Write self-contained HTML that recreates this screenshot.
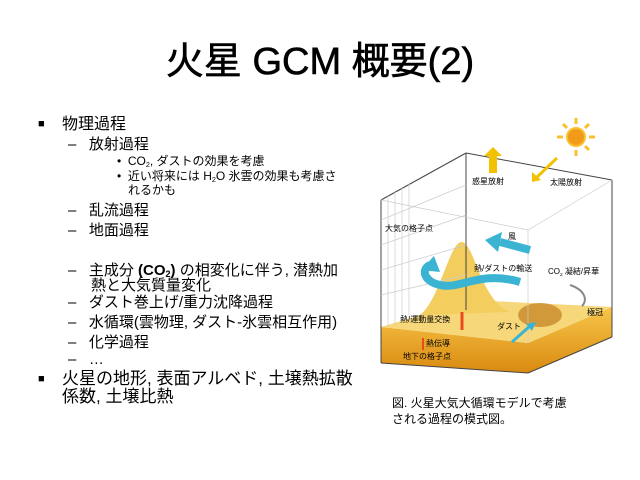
<!DOCTYPE html>
<html><head><meta charset="utf-8"><style>
body{margin:0;width:640px;height:480px;background:#fff;position:relative;overflow:hidden;font-family:"Liberation Sans","Noto Sans CJK JP",sans-serif;color:#000}
.t{position:absolute;white-space:nowrap;line-height:1}
sub{font-size:60%;vertical-align:-2px}
</style></head><body>
<div class="t" style="left:0;width:640px;text-align:center;top:43px;font-size:38px;-webkit-text-stroke:0.6px #000">火星 GCM 概要(2)</div>

<div class="t" style="left:38px;top:119px;font-size:11px">■</div>
<div class="t" style="left:62px;top:117px;font-size:16px">物理過程</div>
<div class="t" style="left:68px;top:137px;font-size:15px">–&nbsp;&nbsp; 放射過程</div>
<div class="t" style="left:117px;top:155px;font-size:12px">•&nbsp; CO<sub>2</sub>, ダストの効果を考慮</div>
<div class="t" style="left:117px;top:170px;font-size:12px">•&nbsp; 近い将来には H<sub>2</sub>O 氷雲の効果も考慮さ</div>
<div class="t" style="left:128px;top:184px;font-size:12px">れるかも</div>
<div class="t" style="left:68px;top:203px;font-size:15px">–&nbsp;&nbsp; 乱流過程</div>
<div class="t" style="left:68px;top:223px;font-size:15px">–&nbsp;&nbsp; 地面過程</div>
<div class="t" style="left:68px;top:263px;font-size:15px">–&nbsp;&nbsp; 主成分 <b>(CO<sub>2</sub>)</b> の相変化に伴う, 潜熱加</div>
<div class="t" style="left:91px;top:278px;font-size:15px">熱と大気質量変化</div>
<div class="t" style="left:68px;top:295px;font-size:15px">–&nbsp;&nbsp; ダスト巻上げ/重力沈降過程</div>
<div class="t" style="left:68px;top:315px;font-size:15px">–&nbsp;&nbsp; 水循環(雲物理, ダスト-氷雲相互作用)</div>
<div class="t" style="left:68px;top:335px;font-size:15px">–&nbsp;&nbsp; 化学過程</div>
<div class="t" style="left:68px;top:352px;font-size:15px">–&nbsp;&nbsp; …</div>
<div class="t" style="left:38px;top:374px;font-size:11px">■</div>
<div class="t" style="left:62px;top:370px;font-size:17px">火星の地形, 表面アルベド, 土壌熱拡散</div>
<div class="t" style="left:62px;top:388px;font-size:17px">係数, 土壌比熱</div>

<svg width="640" height="480" style="position:absolute;left:0;top:0">
<defs><linearGradient id="g" x1="0" y1="0" x2="0" y2="1"><stop offset="0" stop-color="#f7c64a"/><stop offset="1" stop-color="#d98a10"/></linearGradient></defs>
<polygon points="381,327 528,343 612,307 612,337 528,373 381,363" fill="url(#g)"/>
<polygon points="381,327 470,300 612,307 528,343" fill="#f6d77a"/>
<path d="M420,315 C440,300 450,240 462,242 C475,244 480,300 510,312 Z" fill="#f3cd5e"/>
<ellipse cx="540" cy="315" rx="22" ry="12" fill="#c98a2a" opacity="0.8"/>
<g stroke="#444" fill="none" stroke-width="1">
<line x1="381" y1="200" x2="466" y2="153"/><line x1="466" y1="153" x2="612" y2="180"/>
<line x1="381" y1="200" x2="381" y2="363"/><line x1="466" y1="153" x2="466" y2="310"/>
<line x1="612" y1="180" x2="612" y2="337"/><line x1="528" y1="373" x2="612" y2="337"/>
<line x1="381" y1="363" x2="528" y2="373"/>
</g>
<g stroke="#ccc" fill="none" stroke-width="0.7">
<line x1="381" y1="200" x2="528" y2="230"/><line x1="528" y1="230" x2="612" y2="180"/><line x1="528" y1="230" x2="528" y2="343"/>
<line x1="388" y1="196" x2="388" y2="327"/><line x1="395" y1="192" x2="395" y2="325"/><line x1="402" y1="188" x2="402" y2="322"/><line x1="409" y1="184" x2="409" y2="320"/>
<line x1="381" y1="220" x2="466" y2="185"/><line x1="381" y1="245" x2="466" y2="215"/><line x1="381" y1="270" x2="466" y2="245"/><line x1="381" y1="295" x2="466" y2="275"/>
</g>
<circle cx="576" cy="137" r="9" fill="#f29a1a" stroke="#fbc02d" stroke-width="2"/>
<g stroke="#fbc02d" stroke-width="3"><line x1="576" y1="118" x2="576" y2="124"/><line x1="576" y1="150" x2="576" y2="156"/><line x1="557" y1="137" x2="563" y2="137"/><line x1="589" y1="137" x2="595" y2="137"/><line x1="563" y1="124" x2="567" y2="128"/><line x1="585" y1="146" x2="589" y2="150"/><line x1="589" y1="124" x2="585" y2="128"/></g>
<line x1="557" y1="158" x2="536" y2="178" stroke="#f2c200" stroke-width="3"/><polygon points="532,182 532,172 541,180" fill="#f2c200"/>
<rect x="489" y="155" width="8" height="18" fill="#f2c200"/><polygon points="484,156 493,147 502,156" fill="#f2c200"/>
<path d="M530,250 L500,242" stroke="#3bb4d4" stroke-width="8"/><polygon points="485,240 502,232 498,252" fill="#3bb4d4"/>
<path d="M520,282 C480,270 460,290 440,285 C425,282 420,270 430,265" stroke="#3bb4d4" stroke-width="8" fill="none"/><polygon points="421,270 434,256 440,272" fill="#3bb4d4"/>
<path d="M512,342 L530,326" stroke="#3bb4d4" stroke-width="3"/><polygon points="536,322 526,324 532,331" fill="#3bb4d4"/>
<path d="M570,285 C585,290 588,300 582,306" stroke="#888" stroke-width="2" fill="none"/>
<line x1="462" y1="312" x2="462" y2="330" stroke="#e94b1f" stroke-width="3"/><line x1="423" y1="338" x2="423" y2="350" stroke="#e94b1f" stroke-width="2"/>
</svg>
<div class="t" style="left:472px;top:178px;font-size:8px">惑星放射</div>
<div class="t" style="left:550px;top:179px;font-size:8px">太陽放射</div>
<div class="t" style="left:385px;top:225px;font-size:8px">大気の格子点</div>
<div class="t" style="left:508px;top:233px;font-size:8px">風</div>
<div class="t" style="left:474px;top:265px;font-size:8px">熱/ダストの輸送</div>
<div class="t" style="left:548px;top:268px;font-size:8px">CO<sub>2</sub> 凝結/昇華</div>
<div class="t" style="left:587px;top:309px;font-size:8px">極冠</div>
<div class="t" style="left:400px;top:316px;font-size:8px">熱/運動量交換</div>
<div class="t" style="left:497px;top:323px;font-size:8px">ダスト</div>
<div class="t" style="left:426px;top:340px;font-size:8px">熱伝導</div>
<div class="t" style="left:403px;top:353px;font-size:8px">地下の格子点</div>
<div class="t" style="left:392px;top:397px;font-size:12px">図. 火星大気大循環モデルで考慮</div>
<div class="t" style="left:392px;top:413px;font-size:12px">される過程の模式図。</div>
</body></html>
